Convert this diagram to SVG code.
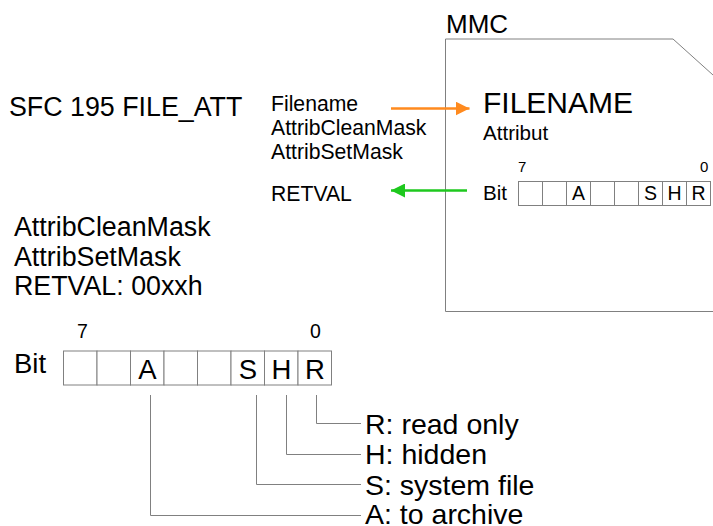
<svg xmlns="http://www.w3.org/2000/svg" width="713" height="526" viewBox="0 0 713 526">
<style>
text{font-family:"Liberation Sans",Arial,sans-serif;fill:#000}
.cell{fill:#fff;stroke:#808080;stroke-width:1}
.ln{fill:none;stroke:#808080;stroke-width:1}
.c{text-anchor:middle}
</style>
<defs>
<marker id="ao" viewBox="0 0 14 14" markerWidth="14" markerHeight="14" refX="14" refY="7" orient="auto" markerUnits="userSpaceOnUse"><path d="M0,0 L14,7 L0,14 Z" fill="#FF8A1E"/></marker>
<marker id="ag" viewBox="0 0 14 14" markerWidth="14" markerHeight="14" refX="14" refY="7" orient="auto" markerUnits="userSpaceOnUse"><path d="M0,0 L14,7 L0,14 Z" fill="#1EC81E"/></marker>
</defs>
<rect width="713" height="526" fill="#fff"/>
<g id="title"><text x="9" y="116" font-size="26.8">SFC 195 FILE_ATT</text></g>
<g id="params">
<text x="271" y="111" font-size="21.2">Filename</text>
<text x="271" y="135" font-size="21.2">AttribCleanMask</text>
<text x="271" y="159" font-size="21.2">AttribSetMask</text>
<text x="271" y="201" font-size="21.2">RETVAL</text>
</g>
<g id="mmc">
<text x="446" y="33" font-size="26">MMC</text>
<path class="ln" d="M713,75 L673,39 L445.5,39 L445.5,311.5 L713,311.5"/>
<text x="483" y="113" font-size="30">FILENAME</text>
<text x="483" y="140" font-size="20.6">Attribut</text>
<text x="518" y="172" font-size="15">7</text>
<text x="700" y="172" font-size="15">0</text>
<text x="483" y="200" font-size="20.6">Bit</text>
<g>
<rect class="cell" x="518.5" y="181.5" width="24" height="24"/>
<rect class="cell" x="542.5" y="181.5" width="24" height="24"/>
<rect class="cell" x="566.5" y="181.5" width="24" height="24"/>
<rect class="cell" x="590.5" y="181.5" width="24" height="24"/>
<rect class="cell" x="614.5" y="181.5" width="24" height="24"/>
<rect class="cell" x="638.5" y="181.5" width="24" height="24"/>
<rect class="cell" x="662.5" y="181.5" width="24" height="24"/>
<rect class="cell" x="686.5" y="181.5" width="24" height="24"/>
<text class="c" x="578.5" y="200" font-size="19.5">A</text>
<text class="c" x="650.5" y="200" font-size="19.5">S</text>
<text class="c" x="674.5" y="200" font-size="19.5">H</text>
<text class="c" x="698.5" y="200" font-size="19.5">R</text>
</g>
</g>
<g id="masks">
<text x="14" y="236" font-size="26.8">AttribCleanMask</text>
<text x="14" y="266" font-size="26.8">AttribSetMask</text>
<text x="14" y="295" font-size="26.8">RETVAL: 00xxh</text>
</g>
<g id="register">
<text x="77" y="338" font-size="19.5">7</text>
<text x="310" y="338" font-size="19.5">0</text>
<text x="14" y="373" font-size="27.5">Bit</text>
<rect class="cell" x="63.5" y="351" width="33.5" height="34"/>
<rect class="cell" x="97" y="351" width="33.5" height="34"/>
<rect class="cell" x="130.5" y="351" width="33.5" height="34"/>
<rect class="cell" x="164" y="351" width="33.5" height="34"/>
<rect class="cell" x="197.5" y="351" width="33.5" height="34"/>
<rect class="cell" x="231" y="351" width="33.5" height="34"/>
<rect class="cell" x="264.5" y="351" width="33.5" height="34"/>
<rect class="cell" x="298" y="351" width="33.5" height="34"/>
<text class="c" x="147.5" y="379" font-size="27.5">A</text>
<text class="c" x="248" y="379" font-size="27.5">S</text>
<text class="c" x="281.5" y="379" font-size="27.5">H</text>
<text class="c" x="315" y="379" font-size="27.5">R</text>
</g>
<g id="legend">
<text x="365" y="434" font-size="28.5">R: read only</text>
<text x="365" y="464" font-size="28.5">H: hidden</text>
<text x="365" y="495" font-size="28.5">S: system file</text>
<text x="365" y="524" font-size="28.5">A: to archive</text>
</g>
<g id="connectors">
<line x1="391" y1="108.5" x2="469.5" y2="108.5" stroke="#FF8A1E" stroke-width="2.5" marker-end="url(#ao)"/>
<line x1="467" y1="190.5" x2="391" y2="190.5" stroke="#1EC81E" stroke-width="2.5" marker-end="url(#ag)"/>
<path class="ln" d="M316.5,395 V423.5 H361"/>
<path class="ln" d="M286.5,395 V454.5 H361"/>
<path class="ln" d="M256.5,395 V484.5 H361"/>
<path class="ln" d="M150.5,395 V515.5 H361"/>
</g>
</svg>
